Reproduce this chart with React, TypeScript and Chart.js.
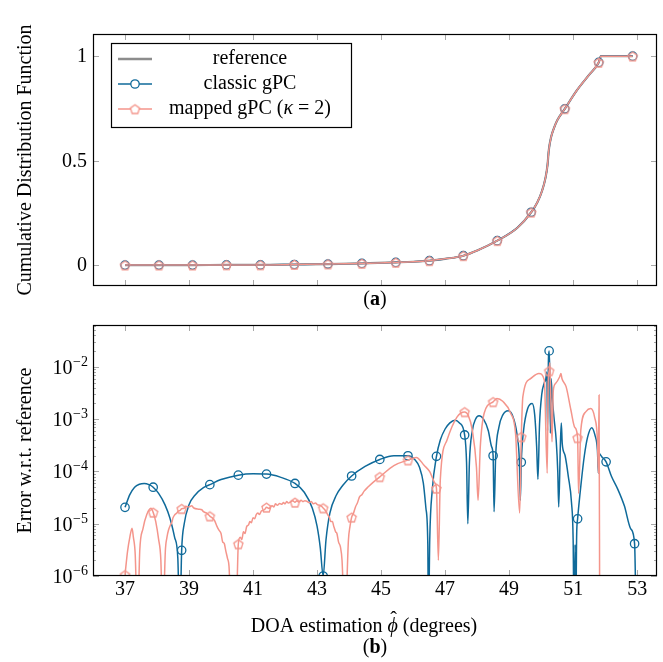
import React, { useEffect, useRef } from "react";
import { Chart, registerables } from "chart.js";
Chart.register(...registerables);

const FONT = '"Liberation Serif", "Times New Roman", serif';
const BLUE = "#0f6a9a";
const PINK = "#f4958b";
const GRAY = "#8c8c8c";
const TICKC = "#a8a8a8";

// axis settings / tick labels
const xTicks = [37, 39, 41, 43, 45, 47, 49, 51, 53];
const cdfTicks = [0, 0.5, 1];
const cdfTickLabels = ["0", "0.5", "1"];
const errDecades = [-6, -5, -4, -3, -2];
const X_MIN = 36;
const X_MAX = 53.62;
const CDF_MIN = -0.1;
const CDF_MAX = 1.106;
const ERR_MIN = 1e-6;
const ERR_MAX = 0.0635;

// (a) cumulative distribution function
const cdfX = [37, 38.06, 39.11, 40.17, 41.23, 42.29, 43.34, 44.4, 45.46, 46.0, 46.51, 47.0, 47.57, 48.02, 48.63, 49.26, 49.69, 49.88, 50.03, 50.14, 50.2, 50.24, 50.31, 50.4, 50.5, 50.74, 51.12, 51.49, 51.8, 51.87, 52.86];
const cdfRef = [0, 0, 0, 0.001, 0.001, 0.003, 0.005, 0.008, 0.013, 0.016, 0.021, 0.03, 0.045, 0.071, 0.117, 0.179, 0.253, 0.3, 0.356, 0.42, 0.48, 0.55, 0.612, 0.655, 0.692, 0.748, 0.837, 0.909, 0.97, 1.0, 1.0];
const cdfMarkX = [37, 38.06, 39.11, 40.17, 41.23, 42.29, 43.34, 44.4, 45.46, 46.51, 47.57, 48.63, 49.69, 50.74, 51.8, 52.86];
const cdfClassicMark = [0, 0, 0, 0.001, 0.001, 0.003, 0.005, 0.008, 0.013, 0.021, 0.045, 0.117, 0.253, 0.748, 0.97, 1.0];
const cdfMappedMark = [0, 0, 0, 0.001, 0.001, 0.003, 0.005, 0.008, 0.013, 0.021, 0.045, 0.117, 0.253, 0.748, 0.97, 1.0];

// (b) error w.r.t. reference
const errMarkX = [37.0, 37.88, 38.77, 39.65, 40.54, 41.42, 42.31, 43.19, 44.08, 44.96, 45.84, 46.73, 47.61, 48.5, 49.38, 50.25, 51.14, 52.03, 52.92];
const classicMark = [2.06e-5, 5.0e-5, 3.1e-6, 5.6e-5, 8.5e-5, 8.9e-5, 5.9e-5, 1.0e-6, 8.2e-5, 1.7e-4, 2.0e-4, 1.95e-4, 5.0e-4, 2.0e-4, 1.5e-4, 2.03e-2, 1.24e-5, 1.53e-4, 4.15e-6];
const mappedMark = [1.05e-6, 1.65e-5, 1.94e-5, 1.4e-5, 4.1e-6, 2.06e-5, 2.57e-5, 2.0e-5, 1.33e-5, 7.9e-5, 1.65e-4, 4.75e-5, 1.38e-3, 2.15e-3, 4.6e-4, 8.4e-3, 4.4e-4, null, null];

const classicX = [37.0, 37.15, 37.3, 37.45, 37.6, 37.75, 37.88, 38.05, 38.25, 38.4, 38.55, 38.65, 38.71, 38.77, 38.85, 39.0, 39.2, 39.45, 39.65, 40.0, 40.54, 41.0, 41.42, 41.85, 42.31, 42.6, 42.85, 43.0, 43.1, 43.19, 43.28, 43.4, 43.6, 43.8, 44.08, 44.5, 44.96, 45.4, 45.84, 46.05, 46.2, 46.32, 46.4, 46.46, 46.48, 46.52, 46.6, 46.73, 46.85, 47.0, 47.15, 47.3, 47.45, 47.61, 47.67, 47.71, 47.76, 47.85, 47.95, 48.06, 48.2, 48.35, 48.45, 48.5, 48.53, 48.58, 48.68, 48.8, 48.97, 49.1, 49.25, 49.32, 49.35, 49.38, 49.45, 49.58, 49.72, 49.8, 49.86, 49.9, 49.95, 50.02, 50.1, 50.14, 50.18, 50.2, 50.23, 50.25, 50.27, 50.29, 50.31, 50.35, 50.4, 50.47, 50.52, 50.55, 50.6, 50.63, 50.66, 50.75, 50.85, 50.95, 51.0, 51.03, 51.06, 51.08, 51.11, 51.14, 51.25, 51.35, 51.45, 51.58, 51.68, 51.76, 51.79, 51.81, 51.9, 52.03, 52.2, 52.4, 52.6, 52.8, 52.92, 52.97];
const classicErr = [2.06e-5, 3.6e-5, 5.0e-5, 5.7e-5, 5.9e-5, 5.6e-5, 5.0e-5, 3.8e-5, 2.3e-5, 1.3e-5, 5.5e-6, 2.2e-6, 1e-7, 3.1e-6, 1.0e-5, 2.3e-5, 3.6e-5, 4.9e-5, 5.6e-5, 7.0e-5, 8.5e-5, 9.0e-5, 8.9e-5, 7.8e-5, 5.9e-5, 4.0e-5, 2.0e-5, 9e-6, 3.5e-6, 1.0e-6, 5e-6, 1.6e-5, 3.5e-5, 5.4e-5, 8.2e-5, 1.25e-4, 1.7e-4, 2.0e-4, 2.0e-4, 1.7e-4, 1.2e-4, 6e-5, 2.0e-5, 4e-6, 1e-7, 5e-6, 4.5e-5, 1.95e-4, 4.0e-4, 6.5e-4, 8.5e-4, 9.6e-4, 8.5e-4, 5.0e-4, 1.5e-4, 1.0e-5, 1.5e-4, 6.0e-4, 1.0e-3, 1.16e-3, 1.0e-3, 6.0e-4, 3.0e-4, 2.0e-4, 1.7e-5, 2.0e-4, 7.0e-4, 1.2e-3, 1.45e-3, 1.2e-3, 5.0e-4, 1.6e-4, 2.8e-5, 1.5e-4, 6e-4, 1.6e-3, 2.0e-3, 1.2e-3, 3e-4, 7.1e-5, 8e-4, 3.0e-3, 5.0e-3, 5.6e-3, 8e-3, 6.0e-4, 1.5e-2, 2.03e-2, 8e-3, 5.4e-4, 6e-3, 2.5e-3, 1.1e-3, 4e-4, 1e-4, 2.1e-5, 3e-4, 8.5e-4, 3.4e-4, 2.0e-4, 8e-5, 2.5e-5, 5e-6, 1e-7, 4e-6, 1e-7, 6e-6, 1.24e-5, 6e-5, 2.0e-4, 4.5e-4, 6.9e-4, 5.0e-4, 2.5e-4, 9.2e-5, 2.2e-4, 1.9e-4, 1.53e-4, 8e-5, 4.5e-5, 2.2e-5, 8e-6, 4.15e-6, 1e-7];

const mappedX = [37.0, 37.08, 37.15, 37.22, 37.26, 37.32, 37.39, 37.46, 37.56, 37.68, 37.81, 37.88, 37.96, 38.05, 38.12, 38.18,
  38.26, 38.31, 38.36, 38.42, 38.46, 38.5, 38.55, 38.62, 38.66, 38.72, 38.77, 38.85, 38.9, 39.0, 39.08, 39.15, 39.3, 39.4, 39.45, 39.55, 39.65, 39.75, 39.8, 39.87, 39.93, 40.0, 40.05, 40.1, 40.15, 40.2, 40.25, 40.33, 40.4, 40.46,
  40.54, 40.6, 40.65, 40.7, 40.75, 40.8, 40.86, 40.9, 40.95, 41.0, 41.05, 41.1, 41.15, 41.2, 41.26, 41.32, 41.37, 41.42, 41.5, 41.55, 41.6, 41.65, 41.7, 41.76, 41.83, 41.9, 41.95, 42.0, 42.05, 42.1, 42.17, 42.24, 42.31, 42.37, 42.43, 42.5, 42.56, 42.62, 42.68, 42.75, 42.82, 42.88, 42.95, 43.02, 43.1, 43.19, 43.27, 43.33, 43.38, 43.43, 43.48, 43.52, 43.58, 43.62, 43.67, 43.73, 43.78, 43.87,
  43.98, 44.03, 44.08, 44.14, 44.2, 44.26, 44.33, 44.4, 44.47, 44.6, 44.75, 44.96, 45.4, 45.84, 46.1, 46.35, 46.52, 46.68, 46.73, 46.79, 46.85, 47.06, 47.37, 47.61, 47.72, 47.85, 47.98, 48.03, 48.1, 48.22, 48.5, 48.62, 48.8, 49.05, 49.2, 49.33, 49.38, 49.43, 49.67, 49.93, 50.1, 50.19, 50.22, 50.25, 50.27, 50.3, 50.34, 50.38, 50.45, 50.58, 50.62, 50.65, 50.78, 50.93, 51.05, 51.14, 51.17, 51.24, 51.4, 51.55, 51.67, 51.76, 51.79, 51.81, 51.83];
const mappedErr = [1.05e-6, 3e-6, 5.5e-6, 8.2e-6, 5.6e-6, 2.5e-6, 1e-7, 3e-6, 8e-6, 1.5e-5, 1.97e-5, 1.65e-5, 1.1e-5, 5e-6, 2e-6, 1e-7,
  3e-6, 5.5e-6, 7.6e-6, 9.5e-6, 1.05e-5, 1.3e-5, 1.47e-5, 1.6e-5, 1.75e-5, 1.8e-5, 1.94e-5, 1.98e-5, 2.15e-5, 2.1e-5, 2.2e-5, 2.0e-5, 1.9e-5, 1.85e-5, 1.7e-5, 1.6e-5, 1.4e-5, 1.25e-5, 1.15e-5, 9e-6, 7.6e-6, 6.5e-6, 4.5e-6, 4.2e-6, 3e-6, 2.2e-6, 1.5e-6, 1e-7, 8e-7, 1e-7,
  4.1e-6, 5.5e-6, 5e-6, 7e-6, 6.5e-6, 8.8e-6, 9.5e-6, 1.1e-5, 1.05e-5, 1.3e-5, 1.25e-5, 1.5e-5, 1.6e-5, 1.5e-5, 1.75e-5, 1.8e-5, 1.9e-5, 2.06e-5, 1.95e-5, 2.15e-5, 2.2e-5, 2.1e-5, 2.4e-5, 2.25e-5, 2.45e-5, 2.35e-5, 2.55e-5, 2.4e-5, 2.65e-5, 2.5e-5, 2.6e-5, 2.75e-5, 2.57e-5, 2.75e-5, 2.6e-5, 2.8e-5, 2.65e-5, 2.75e-5, 2.7e-5, 2.55e-5, 2.65e-5, 2.4e-5, 2.5e-5, 2.3e-5, 2.25e-5, 2.0e-5, 1.75e-5, 1.5e-5, 1.35e-5, 1.1e-5, 1.1e-5, 9e-6, 7e-6, 6.5e-6, 4.5e-6, 3.6e-6, 2e-6, 1e-7,
  4.9e-6, 9e-6, 1.33e-5, 1.6e-5, 2.1e-5, 2.5e-5, 3.3e-5, 3.6e-5, 4.2e-5, 5.1e-5, 6.2e-5, 7.9e-5, 1.3e-4, 1.65e-4, 1.86e-4, 1.3e-4, 9.9e-5, 6e-5, 4.75e-5, 2.0e-6, 6.9e-5, 4e-4, 1.1e-3, 1.38e-3, 1.2e-3, 6.2e-4, 1.2e-4, 2.8e-5, 3e-4, 1.3e-3, 2.15e-3, 2.5e-3, 2.2e-3, 1.3e-3, 5.4e-4, 1.6e-5, 4.6e-4, 2.7e-3, 6e-3, 7.5e-3, 5.6e-3, 9.2e-5, 5e-3, 8.4e-3, 1.2e-2, 3e-3, 3.7e-4, 3.5e-3, 4.8e-3, 6.5e-3, 7.5e-3, 6e-3, 4.2e-3, 1.5e-3, 7e-4, 4.4e-4, 3.8e-5, 6.2e-4, 1.4e-3, 1.6e-3, 1.1e-3, 4e-4, 9.4e-5, 2.9e-3, 1e-7];

function pts(xs: number[], ys: (number | null)[]) {
  const out: { x: number; y: number }[] = [];
  xs.forEach((x, i) => {
    const y = ys[i];
    if (y !== null && y !== undefined) out.push({ x, y });
  });
  return out;
}

function makePentagon(color: string, r: number, lw: number) {
  const size = Math.ceil(2 * r + 2 * lw + 2);
  const c = document.createElement("canvas");
  c.width = size;
  c.height = size;
  const g = c.getContext("2d")!;
  g.strokeStyle = color;
  g.lineWidth = lw;
  g.beginPath();
  for (let i = 0; i < 5; i++) {
    const ang = -Math.PI / 2 + (i * 2 * Math.PI) / 5;
    const px = size / 2 + r * Math.cos(ang);
    const py = size / 2 + 0.6 + r * Math.sin(ang);
    if (i === 0) g.moveTo(px, py);
    else g.lineTo(px, py);
  }
  g.closePath();
  g.stroke();
  return c;
}

function seg(ctx: CanvasRenderingContext2D, x1: number, y1: number, x2: number, y2: number) {
  ctx.beginPath();
  ctx.moveTo(x1, y1);
  ctx.lineTo(x2, y2);
  ctx.stroke();
}

type Piece = { t: string; f: string };
function drawPieces(ctx: CanvasRenderingContext2D, pieces: Piece[], cx: number, y: number) {
  let total = 0;
  const ws = pieces.map((p) => {
    ctx.font = p.f;
    const w = ctx.measureText(p.t).width;
    total += w;
    return w;
  });
  let x = cx - total / 2;
  ctx.textAlign = "left";
  pieces.forEach((p, i) => {
    ctx.font = p.f;
    ctx.fillText(p.t, x, y);
    x += ws[i];
  });
  return cx - total / 2;
}

const F20 = `20px ${FONT}`;
const F20I = `italic 20px ${FONT}`;
const F20B = `bold 20px ${FONT}`;
const F14 = `14px ${FONT}`;

function drawXTicks(ctx: CanvasRenderingContext2D, chart: any) {
  const a = chart.chartArea;
  const sx = chart.scales.x;
  ctx.strokeStyle = TICKC;
  ctx.lineWidth = 1;
  for (const v of xTicks) {
    const px = Math.round(sx.getPixelForValue(v)) + 0.5;
    seg(ctx, px, a.bottom, px, a.bottom - 6);
    seg(ctx, px, a.top, px, a.top + 6);
  }
}

function drawBox(ctx: CanvasRenderingContext2D, a: any) {
  ctx.strokeStyle = "#000";
  ctx.lineWidth = 1.2;
  ctx.strokeRect(a.left + 0.5, a.top + 0.5, a.right - a.left - 1, a.bottom - a.top - 1);
}

function drawYTitle(ctx: CanvasRenderingContext2D, text: string, x: number, y: number) {
  ctx.save();
  ctx.translate(x, y);
  ctx.rotate(-Math.PI / 2);
  ctx.font = F20;
  ctx.fillStyle = "#000";
  ctx.textAlign = "center";
  ctx.textBaseline = "middle";
  ctx.fillText(text, 0, 0);
  ctx.restore();
}

export default function App() {
  const topRef = useRef<HTMLCanvasElement>(null);
  const botRef = useRef<HTMLCanvasElement>(null);

  useEffect(() => {
    const pentPink = makePentagon(PINK, 4.8, 1.3);

    const topDecor = {
      id: "topDecor",
      beforeDatasetsDraw(chart: any) {
        const ctx = chart.ctx as CanvasRenderingContext2D;
        const a = chart.chartArea;
        const sy = chart.scales.y;
        ctx.save();
        drawXTicks(ctx, chart);
        for (const v of cdfTicks) {
          const py = Math.round(sy.getPixelForValue(v)) + 0.5;
          seg(ctx, a.left, py, a.left + 6, py);
          seg(ctx, a.right, py, a.right - 6, py);
        }
        ctx.restore();
      },
      afterDatasetsDraw(chart: any) {
        const ctx = chart.ctx as CanvasRenderingContext2D;
        const a = chart.chartArea;
        const sy = chart.scales.y;
        ctx.save();
        drawBox(ctx, a);
        ctx.fillStyle = "#000";
        ctx.font = F20;
        ctx.textAlign = "right";
        ctx.textBaseline = "middle";
        cdfTicks.forEach((v, i) => {
          ctx.fillText(cdfTickLabels[i], 87, sy.getPixelForValue(v) + 1);
        });
        drawYTitle(ctx, "Cumulative Distribution Function", 26, (a.top + a.bottom) / 2);
        ctx.textBaseline = "middle";
        drawPieces(ctx, [{ t: "(", f: F20 }, { t: "a", f: F20B }, { t: ")", f: F20 }], (a.left + a.right) / 2, 300);

        // legend
        const lx = 111, ly = 43, lw = 240, lh = 84;
        ctx.fillStyle = "#fff";
        ctx.fillRect(lx, ly, lw, lh);
        ctx.strokeStyle = "#000";
        ctx.lineWidth = 1.2;
        ctx.strokeRect(lx + 0.5, ly + 0.5, lw, lh);
        const rows = [59, 84, 109];
        ctx.lineCap = "butt";
        ctx.strokeStyle = GRAY;
        ctx.lineWidth = 2.5;
        seg(ctx, 118, rows[0], 152, rows[0]);
        ctx.strokeStyle = BLUE;
        ctx.lineWidth = 1.5;
        seg(ctx, 118, rows[1], 152, rows[1]);
        ctx.fillStyle = "#fff";
        ctx.beginPath();
        ctx.arc(135, rows[1], 4.2, 0, Math.PI * 2);
        ctx.lineWidth = 1.3;
        ctx.fill();
        ctx.stroke();
        ctx.strokeStyle = PINK;
        ctx.lineWidth = 1.5;
        seg(ctx, 118, rows[2], 152, rows[2]);
        ctx.fillStyle = "#fff";
        ctx.beginPath();
        ctx.arc(135, rows[2], 4, 0, Math.PI * 2);
        ctx.fill();
        ctx.drawImage(pentPink, 135 - pentPink.width / 2, rows[2] - pentPink.height / 2);
        ctx.fillStyle = "#000";
        ctx.textBaseline = "middle";
        drawPieces(ctx, [{ t: "reference", f: F20 }], 250, rows[0]);
        drawPieces(ctx, [{ t: "classic gPC", f: F20 }], 250, rows[1]);
        drawPieces(ctx, [{ t: "mapped gPC (", f: F20 }, { t: "κ", f: F20I }, { t: " = 2)", f: F20 }], 250, rows[2]);
        ctx.restore();
      },
    };

    const botDecor = {
      id: "botDecor",
      beforeDatasetsDraw(chart: any) {
        const ctx = chart.ctx as CanvasRenderingContext2D;
        const a = chart.chartArea;
        const sy = chart.scales.y;
        ctx.save();
        drawXTicks(ctx, chart);
        for (const d of errDecades) {
          for (let m = 1; m <= 9; m++) {
            const v = m * Math.pow(10, d);
            if (v > ERR_MAX) continue;
            const len = m === 1 ? 6 : 3;
            const py = Math.round(sy.getPixelForValue(v)) + 0.5;
            seg(ctx, a.left, py, a.left + len, py);
            seg(ctx, a.right, py, a.right - len, py);
          }
        }
        ctx.restore();
      },
      afterDatasetsDraw(chart: any) {
        const ctx = chart.ctx as CanvasRenderingContext2D;
        const a = chart.chartArea;
        const sx = chart.scales.x;
        const sy = chart.scales.y;
        ctx.save();
        drawBox(ctx, a);
        ctx.fillStyle = "#000";
        ctx.textBaseline = "middle";
        ctx.textAlign = "center";
        ctx.font = F20;
        for (const v of xTicks) {
          ctx.fillText(String(v), sx.getPixelForValue(v), 280);
        }
        ctx.textBaseline = "alphabetic";
        for (const d of errDecades) {
          const py = sy.getPixelForValue(Math.pow(10, d));
          const sup = "\u2212" + String(-d);
          ctx.font = F14;
          const sw = ctx.measureText(sup).width;
          ctx.textAlign = "left";
          ctx.fillText(sup, 88 - sw, py - 1);
          ctx.font = F20;
          ctx.textAlign = "right";
          ctx.fillText("10", 88 - sw - 0.5, py + 7);
        }
        drawYTitle(ctx, "Error w.r.t. reference", 26, (a.top + a.bottom) / 2);
        ctx.textBaseline = "middle";
        const pieces = [
          { t: "DOA estimation ", f: F20 },
          { t: "\u03D5", f: F20I },
          { t: " (degrees)", f: F20 },
        ];
        const left = drawPieces(ctx, pieces, 364, 317);
        ctx.font = F20;
        const w0 = ctx.measureText("DOA estimation ").width;
        ctx.font = F20I;
        const w1 = ctx.measureText("\u03D5").width;
        ctx.font = F20;
        ctx.textAlign = "center";
        ctx.fillText("\u02C6", left + w0 + w1 / 2 + 1, 311);
        drawPieces(ctx, [{ t: "(", f: F20 }, { t: "b", f: F20B }, { t: ")", f: F20 }], (a.left + a.right) / 2, 338);
        ctx.restore();
      },
    };

    const common = {
      responsive: false,
      maintainAspectRatio: false,
      animation: false as const,
      events: [] as any[],
      plugins: { legend: { display: false }, tooltip: { enabled: false } },
    };

    const top = new Chart(topRef.current!, {
      type: "line",
      data: {
        datasets: [
          { label: "mapped gPC marks", data: pts(cdfMarkX, cdfMappedMark), showLine: false, pointStyle: pentPink as any, pointRadius: 5, order: 1 },
          { label: "classic gPC marks", data: pts(cdfMarkX, cdfClassicMark), showLine: false, pointStyle: "circle", pointRadius: 4.2, pointBorderWidth: 1.3, pointBorderColor: BLUE, pointBackgroundColor: "rgba(0,0,0,0)", order: 2 },
          { label: "mapped gPC", data: pts(cdfX, cdfRef), borderColor: PINK, borderWidth: 1.5, pointRadius: 0, cubicInterpolationMode: "monotone", order: 3 },
          { label: "classic gPC", data: pts(cdfX, cdfRef), borderColor: BLUE, borderWidth: 1.6, pointRadius: 0, cubicInterpolationMode: "monotone", order: 4 },
          { label: "reference", data: pts(cdfX, cdfRef), borderColor: GRAY, borderWidth: 2.2, pointRadius: 0, cubicInterpolationMode: "monotone", order: 5 },
        ],
      },
      options: {
        ...common,
        layout: { padding: { left: 93, top: 34, right: 2, bottom: 24 } },
        scales: {
          x: { type: "linear", display: false, min: X_MIN, max: X_MAX },
          y: { type: "linear", display: false, min: CDF_MIN, max: CDF_MAX },
        },
      } as any,
      plugins: [topDecor],
    });

    const bot = new Chart(botRef.current!, {
      type: "line",
      data: {
        datasets: [
          { label: "mapped gPC marks", data: pts(errMarkX, mappedMark), showLine: false, pointStyle: pentPink as any, pointRadius: 5, order: 1 },
          { label: "mapped gPC", data: pts(mappedX, mappedErr), borderColor: PINK, borderWidth: 1.5, pointRadius: 0, cubicInterpolationMode: "monotone", order: 2 },
          { label: "classic gPC marks", data: pts(errMarkX, classicMark), showLine: false, pointStyle: "circle", pointRadius: 4.2, pointBorderWidth: 1.3, pointBorderColor: BLUE, pointBackgroundColor: "rgba(0,0,0,0)", order: 3 },
          { label: "classic gPC", data: pts(classicX, classicErr), borderColor: BLUE, borderWidth: 1.5, pointRadius: 0, cubicInterpolationMode: "monotone", order: 4 },
        ],
      },
      options: {
        ...common,
        layout: { padding: { left: 93, top: 15, right: 2, bottom: 86 } },
        scales: {
          x: { type: "linear", display: false, min: X_MIN, max: X_MAX },
          y: { type: "logarithmic", display: false, min: ERR_MIN, max: ERR_MAX },
        },
      } as any,
      plugins: [botDecor],
    });

    return () => {
      top.destroy();
      bot.destroy();
    };
  }, []);

  return (
    <div style={{ position: "absolute", left: 0, top: 0, width: 663, height: 662, background: "#fff" }}>
      <canvas ref={topRef} width={663} height={310} style={{ display: "block", width: 663, height: 310 }} />
      <canvas ref={botRef} width={663} height={352} style={{ display: "block", width: 663, height: 352 }} />
    </div>
  );
}
